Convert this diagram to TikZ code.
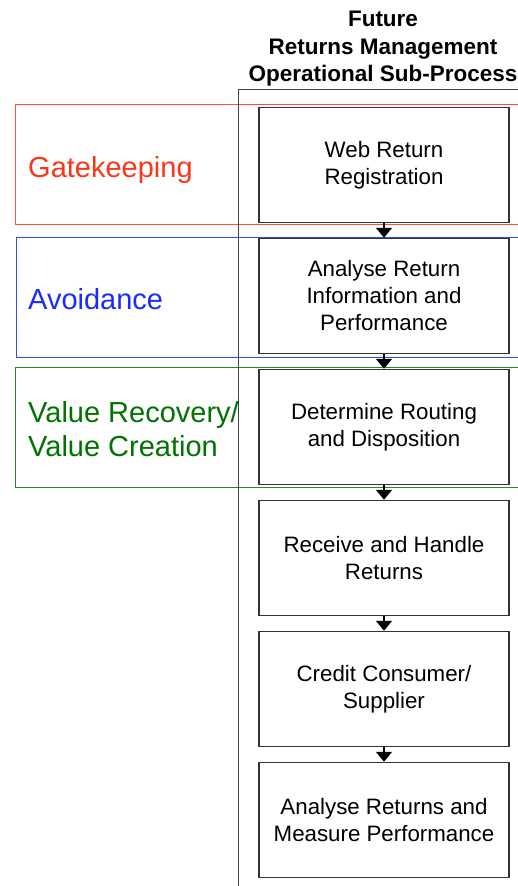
\documentclass[tikz,border=0pt]{standalone}
\usepackage{fontspec}
\setmainfont{Liberation Sans}
\usetikzlibrary{arrows.meta}
\definecolor{gkred}{RGB}{250,55,25}
\definecolor{gkredline}{RGB}{250,80,60}
\definecolor{avblue}{RGB}{25,45,250}
\definecolor{avblueline}{RGB}{50,75,240}
\definecolor{vrgreen}{RGB}{0,115,0}
\definecolor{vrgreenline}{RGB}{45,135,45}
\begin{document}
\begin{tikzpicture}[x=1pt,y=-1pt,
  stepbox/.style={draw=black!80, line width=1.5pt, minimum width=250pt,
    minimum height=115pt, align=center, inner sep=0pt,
    font=\fontsize{22.3}{27}\selectfont},
  flow/.style={-{Triangle[width=16pt,length=10pt]}, line width=1.6pt, black},
  band/.style={line width=1pt},
  lbl/.style={anchor=base west, inner sep=0pt, align=left,
    font=\fontsize{29}{34}\selectfont}]
\useasboundingbox (0,0) rectangle (518,886);
\clip (0,0) rectangle (518,886);
\fill[white] (0,0) rectangle (518,886);
% stage bands
\draw[band, gkredline] (15,104) rectangle (530,224);
\draw[band, avblueline] (16,237) rectangle (530,357);
\draw[band, vrgreenline] (15,367) rectangle (530,487);
% column
\coordinate (colbot) at (238,890);
\coordinate (colcorner) at (238,89);
\coordinate (colright) at (530,89);
\draw[black!75, line width=1pt] (colbot) -- (colcorner) -- (colright);
% title
\node[align=center, anchor=base, inner sep=0pt,
  font=\bfseries\fontsize{22.5}{27.5}\selectfont] (title) at (383,81.7)
  {Future\\Returns Management\\Operational Sub-Process};
% labels
\node[lbl, text=gkred] (gk) at (28,177) {Gatekeeping};
\node[lbl, text=avblue] (av) at (28,309) {Avoidance};
\node[lbl, text=vrgreen] (vr) at (28,456) {Value Recovery/\\Value Creation};
% steps
\node[stepbox] (b1) at (384,165) {Web Return\\Registration};
\node[stepbox] (b2) at (384,296) {Analyse Return\\Information and\\Performance};
\node[stepbox] (b3) at (384,427) {Determine Routing\\and Disposition};
\node[stepbox] (b4) at (384,558) {Receive and Handle\\Returns};
\node[stepbox] (b5) at (384,689) {Credit Consumer/\\Supplier};
\node[stepbox] (b6) at (384,820) {Analyse Returns and\\Measure Performance};
\draw[flow] (b1) -- (b2);
\draw[flow] (b2) -- (b3);
\draw[flow] (b3) -- (b4);
\draw[flow] (b4) -- (b5);
\draw[flow] (b5) -- (b6);
\end{tikzpicture}
\end{document}
